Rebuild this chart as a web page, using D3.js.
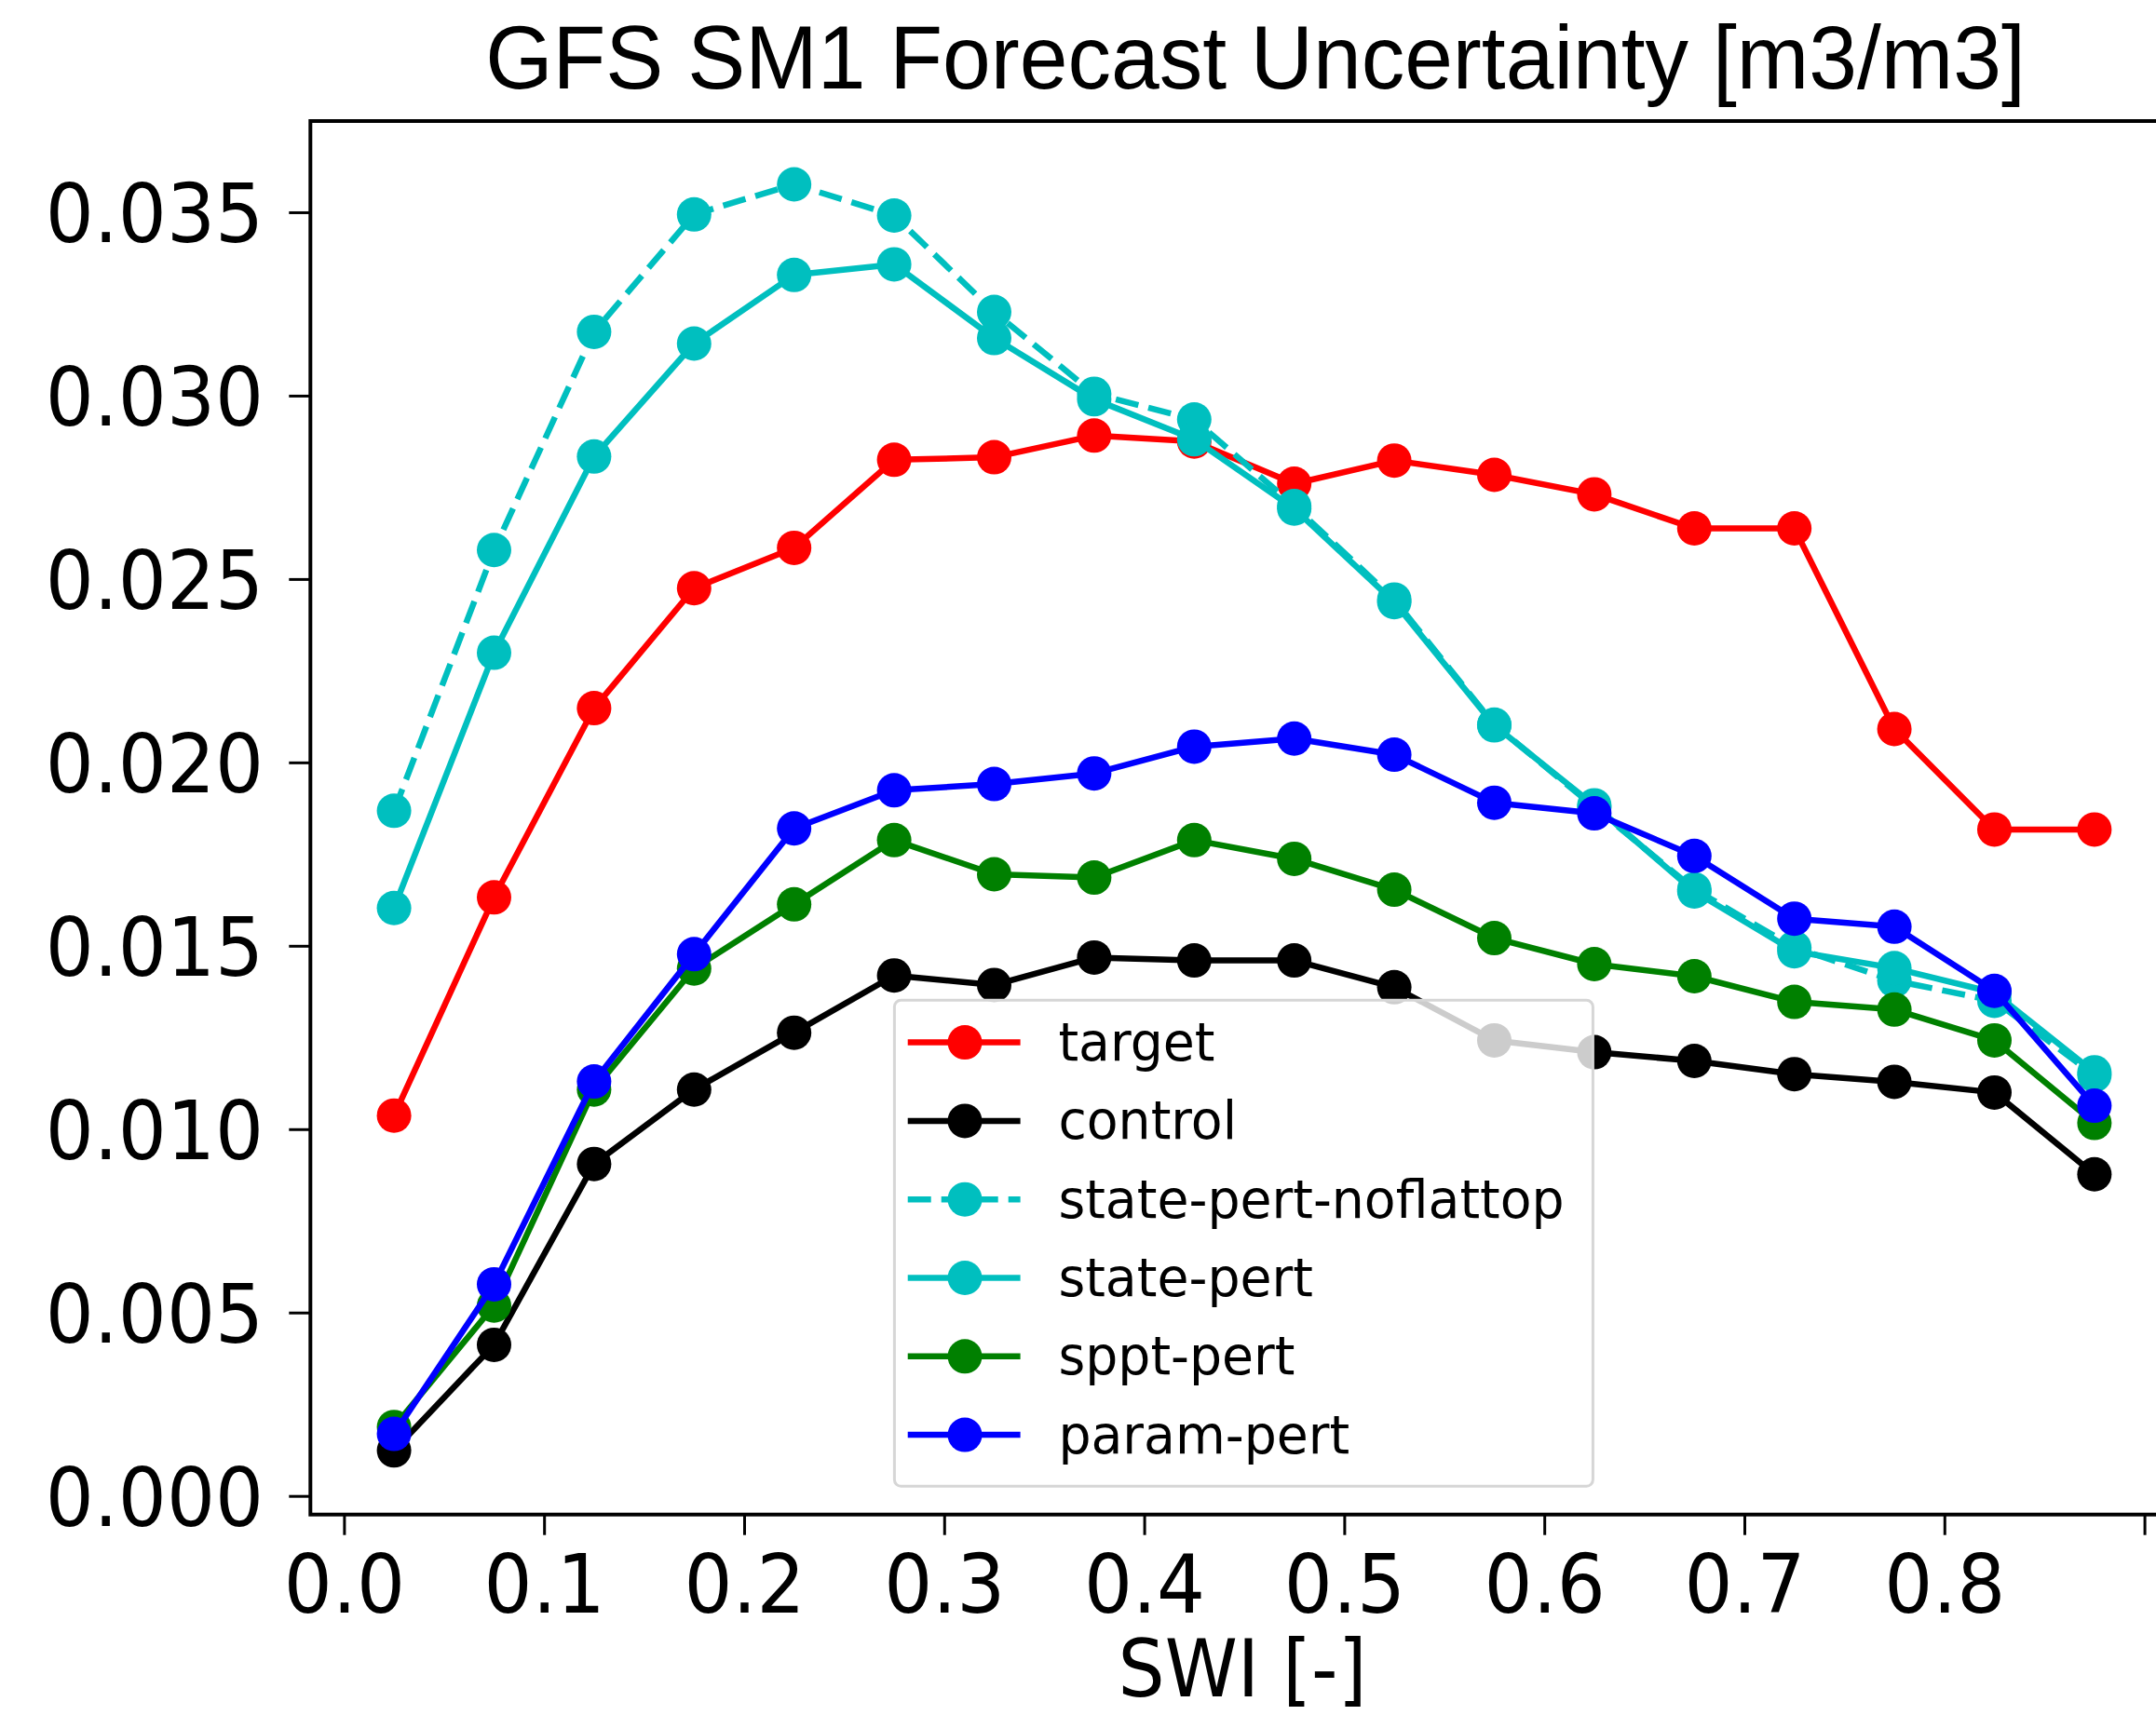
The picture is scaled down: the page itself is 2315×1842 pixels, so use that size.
<!DOCTYPE html>
<html>
<head>
<meta charset="utf-8">
<script src="https://cdn.jsdelivr.net/npm/d3@7"></script>
<style>
  html, body { margin: 0; padding: 0; background: #fff; }
  svg { display: block; }
</style>
</head>
<body>
<svg id="chart" width="2315" height="1842"></svg>
<script>
// SWI bin centres
const swi = [0.025, 0.075, 0.125, 0.175, 0.225, 0.275, 0.325, 0.375, 0.425,
             0.475, 0.525, 0.575, 0.625, 0.675, 0.725, 0.775, 0.825, 0.875];

// Forecast uncertainty per experiment [m3/m3]
const target = [0.01037, 0.01632, 0.02148, 0.02475, 0.02585, 0.02825, 0.02832, 0.02891, 0.02875,
                0.02760, 0.02823, 0.02784, 0.02731, 0.02638, 0.02638, 0.02091, 0.01817, 0.01817];
const control = [0.00124, 0.00412, 0.00905, 0.01108, 0.01263, 0.01419, 0.01393, 0.01468, 0.01460,
                 0.01460, 0.01387, 0.01242, 0.01210, 0.01186, 0.01150, 0.01129, 0.01100, 0.00877];
const statePertNoflattop = [0.01868, 0.02579, 0.03174, 0.03494, 0.03576, 0.03491, 0.03228, 0.03005, 0.02935,
                            0.02699, 0.02444, 0.02103, 0.01878, 0.01654, 0.01495, 0.01405, 0.01350, 0.01147];
const statePert = [0.01603, 0.02299, 0.02834, 0.03142, 0.03329, 0.03358, 0.03157, 0.02990, 0.02881,
                   0.02692, 0.02437, 0.02101, 0.01883, 0.01648, 0.01485, 0.01439, 0.01372, 0.01155];
const spptPert = [0.00188, 0.00519, 0.01108, 0.01438, 0.01613, 0.01788, 0.01695, 0.01686, 0.01788,
                  0.01737, 0.01653, 0.01521, 0.01450, 0.01417, 0.01347, 0.01326, 0.01242, 0.01017];
const paramPert = [0.00169, 0.00577, 0.01130, 0.01477, 0.01820, 0.01924, 0.01941, 0.01970, 0.02043,
                   0.02065, 0.02021, 0.01890, 0.01861, 0.01745, 0.01574, 0.01552, 0.01377, 0.01064];

const seriesNames = ["target", "control", "state-pert-noflattop", "state-pert", "sppt-pert", "param-pert"];
const seriesColors = ["#ff0000", "#000000", "#00bfbf", "#00bfbf", "#008000", "#0000ff"];
const seriesDashed = [false, false, true, false, false, false];
const seriesValues = [target, control, statePertNoflattop, statePert, spptPert, paramPert];

const xTicks = [0.0, 0.1, 0.2, 0.3, 0.4, 0.5, 0.6, 0.7, 0.8, 0.9];
const yTicks = [0.000, 0.005, 0.010, 0.015, 0.020, 0.025, 0.030, 0.035];

const titleText = "GFS SM1 Forecast Uncertainty [m3/m3]";
const xLabel = "SWI [-]";

// ---- layout ----
const svg = d3.select("#chart");
const plotLeft = 333.3, plotTop = 130, plotBottom = 1626.7;
const xDomain = [-0.0168, 0.9175];
const pxPer = 2148; // pixels per unit SWI
const plotRight = plotLeft + (xDomain[1] - xDomain[0]) * pxPer;

const x = d3.scaleLinear().domain(xDomain).range([plotLeft, plotRight]);
const y = d3.scaleLinear().domain([-0.000508, 0.037487]).range([plotBottom, plotTop]);

const tickFont = "'DejaVu Sans', 'Noto Sans', sans-serif";
const squeeze = 0.93;

// ---- title ----
svg.append("text")
  .attr("transform", "translate(1348,95) scale(1,1.03)")
  .attr("text-anchor", "middle")
  .style("font-family", "'Liberation Sans', Arial, Helvetica, sans-serif")
  .style("font-size", "93px")
  .style("fill", "#000")
  .text(titleText);

// ---- axes ----
const xAxis = d3.axisBottom(x)
  .tickValues(xTicks)
  .tickSize(22)
  .tickFormat(d => d >= 0.85 ? "" : d3.format(".1f")(d));
const gx = svg.append("g").attr("transform", `translate(0,${plotBottom})`).call(xAxis);
gx.select(".domain").remove();
gx.selectAll(".tick line").attr("stroke", "#000").attr("stroke-width", 3);
gx.selectAll(".tick text")
  .attr("y", 105).attr("dy", 0)
  .attr("transform", `scale(${squeeze},1)`)
  .style("font-family", tickFont).style("font-size", "88px").attr("fill", "#000");

const yAxis = d3.axisLeft(y)
  .tickValues(yTicks)
  .tickSize(23)
  .tickFormat(d3.format(".3f"));
const gy = svg.append("g").attr("transform", `translate(${plotLeft},0)`).call(yAxis);
gy.select(".domain").remove();
gy.selectAll(".tick line").attr("stroke", "#000").attr("stroke-width", 3);
gy.selectAll(".tick text")
  .attr("x", -50.3 / squeeze).attr("dy", "0.36em")
  .attr("transform", `scale(${squeeze},1)`)
  .style("font-family", tickFont).style("font-size", "88px").attr("fill", "#000");

// axes frame
svg.append("rect")
  .attr("x", plotLeft).attr("y", plotTop)
  .attr("width", plotRight - plotLeft).attr("height", plotBottom - plotTop)
  .attr("fill", "none").attr("stroke", "#000").attr("stroke-width", 4);

// x label
svg.append("text")
  .attr("transform", `translate(1334,1822) scale(${squeeze},1)`)
  .attr("text-anchor", "middle")
  .style("font-family", tickFont).style("font-size", "85px")
  .attr("fill", "#000")
  .text(xLabel);

// ---- series ----
const line = d3.line().x(d => x(d[0])).y(d => y(d[1]));
const plot = svg.append("g");
seriesValues.forEach((vals, i) => {
  const pts = swi.map((s, j) => [s, vals[j]]);
  const g = plot.append("g");
  g.append("path")
    .datum(pts)
    .attr("d", line)
    .attr("fill", "none")
    .attr("stroke", seriesColors[i])
    .attr("stroke-width", 6.5)
    .attr("stroke-linejoin", "round")
    .attr("stroke-dasharray", seriesDashed[i] ? "25,11" : null);
  g.selectAll("circle")
    .data(pts)
    .join("circle")
    .attr("cx", d => x(d[0]))
    .attr("cy", d => y(d[1]))
    .attr("r", 18.5)
    .attr("fill", seriesColors[i]);
});

// ---- legend ----
const lg = svg.append("g");
lg.append("rect")
  .attr("x", 960.4).attr("y", 1074.3)
  .attr("width", 750).attr("height", 522)
  .attr("rx", 7).attr("ry", 7)
  .attr("fill", "#fff").attr("fill-opacity", 0.8)
  .attr("stroke", "#d6d6d6").attr("stroke-width", 3);

seriesNames.forEach((name, i) => {
  const cy = 1119.6 + i * 84.3;
  lg.append("line")
    .attr("x1", 974.7).attr("x2", 1095.6)
    .attr("y1", cy).attr("y2", cy)
    .attr("stroke", seriesColors[i])
    .attr("stroke-width", 6.5)
    .attr("stroke-dasharray", seriesDashed[i] ? "25,11" : null);
  lg.append("circle")
    .attr("cx", 1036).attr("cy", cy).attr("r", 18.5)
    .attr("fill", seriesColors[i]);
  lg.append("text")
    .attr("transform", `translate(1136.4,${cy + 19.5}) scale(0.97,1)`)
    .style("font-family", tickFont).style("font-size", "57px")
    .attr("fill", "#000")
    .text(name);
});
</script>
</body>
</html>
